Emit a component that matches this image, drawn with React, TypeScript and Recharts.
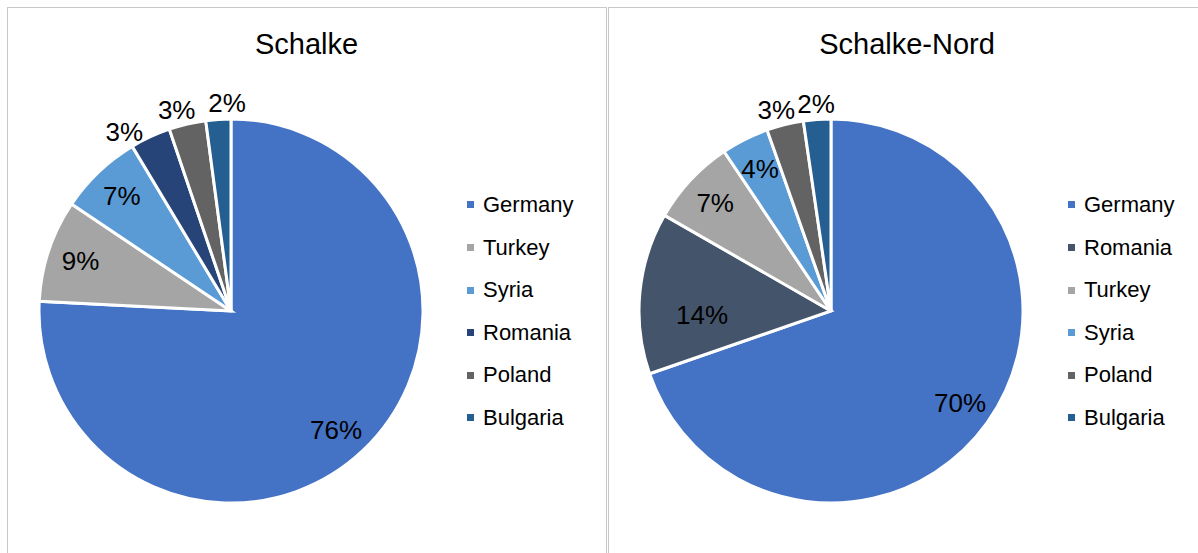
import React from "react";
import { PieChart, Pie, Cell, Legend } from "recharts";

// ---- Data ----
const schalkeNames = ["Germany", "Turkey", "Syria", "Romania", "Poland", "Bulgaria"];
const schalkeValues = [75.8, 8.6, 7.0, 3.4, 3.1, 2.1];

const nordNames = ["Germany", "Romania", "Turkey", "Syria", "Poland", "Bulgaria"];
const nordValues = [69.7, 13.6, 7.3, 4.0, 3.1, 2.3];

const titles = ["Schalke", "Schalke-Nord"];

// ---- Styles ----
const colorLeft: Record<string, string> = {
  Germany: "#4472C4",
  Turkey: "#A5A5A5",
  Syria: "#5B9BD5",
  Romania: "#264478",
  Poland: "#636363",
  Bulgaria: "#255E91",
};
const colorRight: Record<string, string> = {
  Germany: "#4472C4",
  Romania: "#44546A",
  Turkey: "#A5A5A5",
  Syria: "#5B9BD5",
  Poland: "#636363",
  Bulgaria: "#255E91",
};

// label placement tweaks (radius / angle nudge), styling only
const nudgeLeft: Record<string, { r?: number; da?: number }> = {
  Germany: { da: -2 },
  Romania: { da: 6 },
  Poland: { da: 2 },
  Bulgaria: { da: -2.7 },
};
const nudgeRight: Record<string, { r?: number; da?: number }> = {
  Romania: { r: 129, da: 7 },
  Poland: { da: 1.4 },
};

const FONT = "'Liberation Sans', Arial, sans-serif";
const BORDER = "#C9C9C9";

const makeLabel = (nudge: Record<string, { r?: number; da?: number }>) => (props: any) => {
  const { cx, cy, midAngle, outerRadius, percent, name } = props;
  const n = nudge[name] || {};
  const small = percent < 0.035;
  const r = n.r ?? (small ? outerRadius + 16 : outerRadius * 0.825);
  const ang = ((midAngle + (n.da ?? 0)) * Math.PI) / 180;
  const x = cx + r * Math.cos(-ang);
  const y = cy + r * Math.sin(-ang);
  return (
    <text
      x={x}
      y={y}
      textAnchor="middle"
      dominantBaseline="central"
      fill="#000"
      style={{ fontFamily: FONT, fontSize: 26 }}
    >
      {Math.round(percent * 100) + "%"}
    </text>
  );
};

const makeLegend = (order: string[]) => (props: any) => {
  const payload = [...(props.payload || [])].sort(
    (a: any, b: any) => order.indexOf(a.value) - order.indexOf(b.value)
  );
  return (
    <div style={{ position: "relative" }}>
      {payload.map((p: any, i: number) => (
        <div
          key={i}
          style={{
            height: 42.6,
            display: "flex",
            alignItems: "center",
            fontFamily: FONT,
            fontSize: 22,
            color: "#000",
            whiteSpace: "nowrap",
          }}
        >
          <span
            style={{
              display: "inline-block",
              width: 7,
              height: 7,
              background: p.color,
              marginRight: 9,
            }}
          />
          <span>{p.value}</span>
        </div>
      ))}
    </div>
  );
};

function Panel({
  names,
  values,
  colors,
  nudge,
  left,
  width,
  cx,
  legendLeft,
  title,
  titleCenter,
}: any) {
  const data = names.map((n: string, i: number) => ({ name: n, value: values[i] }));
  return (
    <div style={{ position: "absolute", left, top: 0, width, height: 553 }}>
      <div
        style={{
          position: "absolute",
          left: titleCenter - 150,
          width: 300,
          top: 29.5,
          textAlign: "center",
          fontFamily: FONT,
          fontSize: 29,
          lineHeight: "29px",
          color: "#000",
        }}
      >
        {title}
      </div>
      <PieChart width={width} height={553} margin={{ top: 0, right: 0, bottom: 0, left: 0 }}>
        <Pie
          data={data}
          dataKey="value"
          nameKey="name"
          cx={cx}
          cy={311}
          outerRadius={192}
          startAngle={90}
          endAngle={-270}
          stroke="#FFFFFF"
          strokeWidth={3}
          label={makeLabel(nudge)}
          labelLine={false}
          isAnimationActive={false}
        >
          {data.map((d: any, i: number) => (
            <Cell key={i} fill={colors[d.name]} />
          ))}
        </Pie>
        <Legend
          layout="vertical"
          align="right"
          verticalAlign="middle"
          content={makeLegend(names)}
          wrapperStyle={{ left: legendLeft, top: 183.7, width: 140 }}
        />
      </PieChart>
    </div>
  );
}

export default function App() {
  return (
    <div
      style={{
        position: "absolute",
        left: 0,
        top: 0,
        width: 1198,
        height: 553,
        background: "#fff",
        overflow: "hidden",
      }}
    >
      {/* panel frames */}
      <div
        style={{
          position: "absolute",
          left: 6.5,
          top: 6.5,
          width: 600,
          height: 600,
          border: `1.5px solid ${BORDER}`,
          boxSizing: "border-box",
        }}
      />
      <div
        style={{
          position: "absolute",
          left: 608,
          top: 6.5,
          width: 640,
          height: 600,
          border: `1.5px solid ${BORDER}`,
          boxSizing: "border-box",
        }}
      />
      <Panel
        names={schalkeNames}
        values={schalkeValues}
        colors={colorLeft}
        nudge={nudgeLeft}
        left={0}
        width={607}
        cx={231}
        legendLeft={467}
        title={titles[0]}
        titleCenter={306.5}
      />
      <Panel
        names={nordNames}
        values={nordValues}
        colors={colorRight}
        nudge={nudgeRight}
        left={607}
        width={591}
        cx={224}
        legendLeft={461}
        title={titles[1]}
        titleCenter={300}
      />
    </div>
  );
}
